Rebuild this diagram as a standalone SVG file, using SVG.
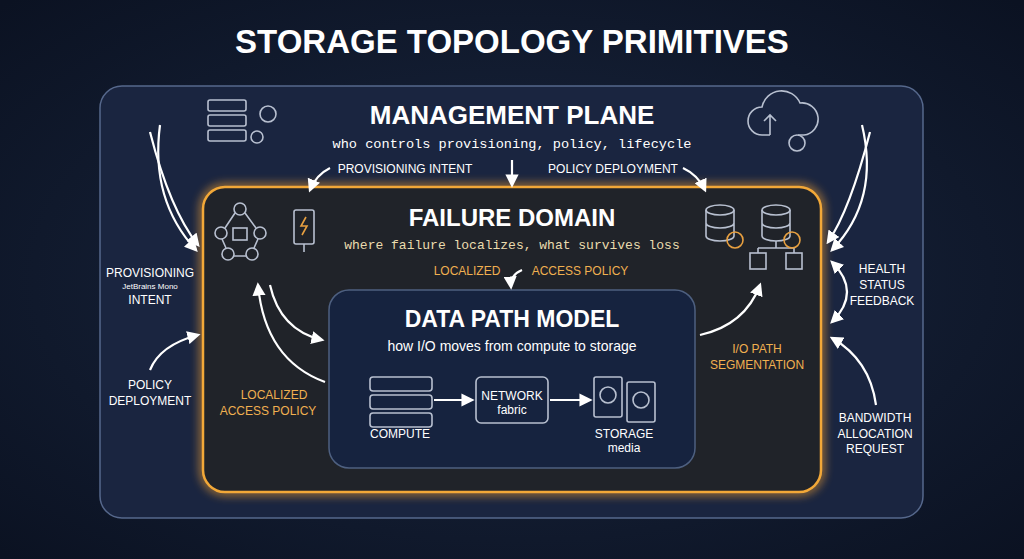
<svg xmlns="http://www.w3.org/2000/svg" width="1024" height="559" viewBox="0 0 1024 559">
<defs>
<radialGradient id="bg" cx="50%" cy="50%" r="70%"><stop offset="0" stop-color="#1a2740"/><stop offset="1" stop-color="#0b1222"/></radialGradient>
<marker id="ah" viewBox="0 0 10 10" refX="8" refY="5" markerWidth="6" markerHeight="6" orient="auto-start-reverse"><path d="M0,0L10,5L0,10z" fill="#fff"/></marker>
<filter id="glow" x="-10%" y="-10%" width="120%" height="120%"><feGaussianBlur stdDeviation="5"/></filter>
</defs>
<style>
.t{font-family:"Liberation Sans",Arial,sans-serif;fill:#fff;text-anchor:middle}
.h{font-weight:bold}
.m{font-family:"Liberation Mono","DejaVu Sans Mono",monospace;text-anchor:middle}
.s{font-size:12px}
.o{fill:#f0b050}
.c{fill:none;stroke:#fff;stroke-width:2.2;marker-end:url(#ah)}
.i{fill:none;stroke:#b8c0d0;stroke-width:1.6}
.io{fill:none;stroke:#e8a040;stroke-width:1.6}
</style>
<rect width="1024" height="559" fill="url(#bg)"/>
<text class="t h" x="512" y="53" font-size="33">STORAGE TOPOLOGY PRIMITIVES</text>
<g id="management-plane">
<rect x="100" y="86" width="823" height="432" rx="22" fill="#1a2540" stroke="#56688c" stroke-width="1.5"/>
<text class="t h" x="512" y="124" font-size="26">MANAGEMENT PLANE</text>
<text class="m" x="512" y="148" font-size="13.6" fill="#fff">who controls provisioning, policy, lifecycle</text>
<text class="t s" x="405" y="173">PROVISIONING INTENT</text>
<text class="t s" x="613" y="173">POLICY DEPLOYMENT</text>
<g class="i"><rect x="208" y="100" width="38" height="11" rx="2"/><rect x="208" y="115" width="38" height="11" rx="2"/><rect x="208" y="130" width="38" height="11" rx="2"/><circle cx="268" cy="114" r="8"/><circle cx="257" cy="137" r="6"/></g>
<g class="i"><path d="M770,135h-8a14,14 0 0 1 0-28a20,20 0 0 1 38-4a14,14 0 0 1 4,32h-6"/><path d="M770,135v-20M764,121l6-6 6,6"/><circle cx="797" cy="143" r="8"/></g>
</g>
<g id="failure-domain">
<rect x="203" y="187" width="618" height="305" rx="22" fill="none" stroke="#f0a030" stroke-width="6" filter="url(#glow)" opacity="0.8"/>
<rect x="203" y="187" width="618" height="305" rx="22" fill="#202329" stroke="#f2a838" stroke-width="2.5"/>
<text class="t h" x="512" y="226" font-size="24">FAILURE DOMAIN</text>
<text class="m" x="512" y="249" font-size="13" fill="#eadcae">where failure localizes, what survives loss</text>
<text class="t s o" x="467" y="275">LOCALIZED</text>
<text class="t s o" x="580" y="275">ACCESS POLICY</text>
<g class="i"><circle cx="240" cy="209" r="6"/><circle cx="221" cy="233" r="6"/><circle cx="260" cy="233" r="6"/><circle cx="228" cy="254" r="6"/><circle cx="252" cy="254" r="6"/><path d="M235,213L225,228M245,213L256,228M222,239L226,248M258,239L254,248M234,256H246"/><rect x="233" y="228" width="14" height="12"/></g>
<g><rect x="294" y="210" width="20" height="34" rx="2" class="i"/><path d="M306,217l-5,9h6l-5,9" class="io"/><path d="M304,244v8" class="i"/></g>
<g class="i"><ellipse cx="720" cy="210" rx="14" ry="5"/><path d="M706,210v26a14,5 0 0 0 28,0v-26M706,223a14,5 0 0 0 28,0"/><ellipse cx="776" cy="210" rx="14" ry="5"/><path d="M762,210v26a14,5 0 0 0 28,0v-26M762,223a14,5 0 0 0 28,0M776,241v7M758,248h36M758,248v5M794,248v5"/><rect x="750" y="253" width="16" height="16"/><rect x="786" y="253" width="16" height="16"/></g>
<circle cx="735" cy="240" r="8" class="io"/><circle cx="792" cy="240" r="8" class="io"/>
<text class="t s o" x="274" y="399">LOCALIZED</text>
<text class="t s o" x="268" y="415">ACCESS POLICY</text>
<text class="t s o" x="757" y="353">I/O PATH</text>
<text class="t s o" x="757" y="369">SEGMENTATION</text>
</g>
<g id="data-path">
<rect x="329" y="290" width="366" height="178" rx="20" fill="#16233f" stroke="#4e6080" stroke-width="1.5"/>
<text class="t h" x="512" y="327" font-size="23">DATA PATH MODEL</text>
<text class="t" x="512" y="351" font-size="14">how I/O moves from compute to storage</text>
</g>
<g id="compute"><g class="i"><rect x="370" y="377" width="62" height="14" rx="3"/><rect x="370" y="395" width="62" height="14" rx="3"/><rect x="370" y="413" width="62" height="14" rx="3"/></g><text class="t s" x="400" y="438">COMPUTE</text></g>
<g id="network"><rect x="476" y="377" width="72" height="46" rx="5" class="i"/><text class="t s" x="512" y="400">NETWORK</text><text class="t s" x="512" y="414">fabric</text></g>
<g id="storage"><g class="i"><rect x="594" y="377" width="28" height="40" rx="2"/><circle cx="608" cy="395" r="8"/><rect x="627" y="382" width="28" height="40" rx="2"/><circle cx="641" cy="400" r="8"/></g><text class="t s" x="624" y="438">STORAGE</text><text class="t s" x="624" y="452">media</text></g>
<g id="side-labels">
<text class="t s" x="150" y="277">PROVISIONING</text>
<text class="t" x="150" y="289" font-size="8" fill="#c0c8d8">JetBrains Mono</text>
<text class="t s" x="150" y="304">INTENT</text>
<text class="t s" x="150" y="389">POLICY</text>
<text class="t s" x="150" y="405">DEPLOYMENT</text>
<text class="t s" x="882" y="273">HEALTH</text>
<text class="t s" x="882" y="289">STATUS</text>
<text class="t s" x="882" y="305">FEEDBACK</text>
<text class="t s" x="875" y="422">BANDWIDTH</text>
<text class="t s" x="875" y="438">ALLOCATION</text>
<text class="t s" x="875" y="453">REQUEST</text>
</g>
<g id="connectors">
<path class="c" d="M330,168Q316,175 310,190"/>
<path class="c" d="M512,160V185"/>
<path class="c" d="M683,168Q698,175 705,190"/>
<path class="c" d="M150,132Q170,210 198,245"/>
<path class="c" d="M160,125Q150,200 196,250"/>
<path class="c" d="M150,370Q160,345 198,335"/>
<path class="c" d="M870,132Q850,210 828,242"/>
<path class="c" d="M862,125Q880,200 832,250"/>
<path class="c" d="M832,262Q862,292 832,322" marker-start="url(#ah)"/>
<path class="c" d="M876,405Q870,360 832,338"/>
<path class="c" d="M325,382Q265,360 258,285"/>
<path class="c" d="M270,285Q280,330 322,340"/>
<path class="c" d="M700,335Q745,325 760,285"/>
<path class="c" d="M522,270Q510,275 511,287"/>
<path class="c" d="M434,400H472"/>
<path class="c" d="M550,400H590"/>
</g>
</svg>
